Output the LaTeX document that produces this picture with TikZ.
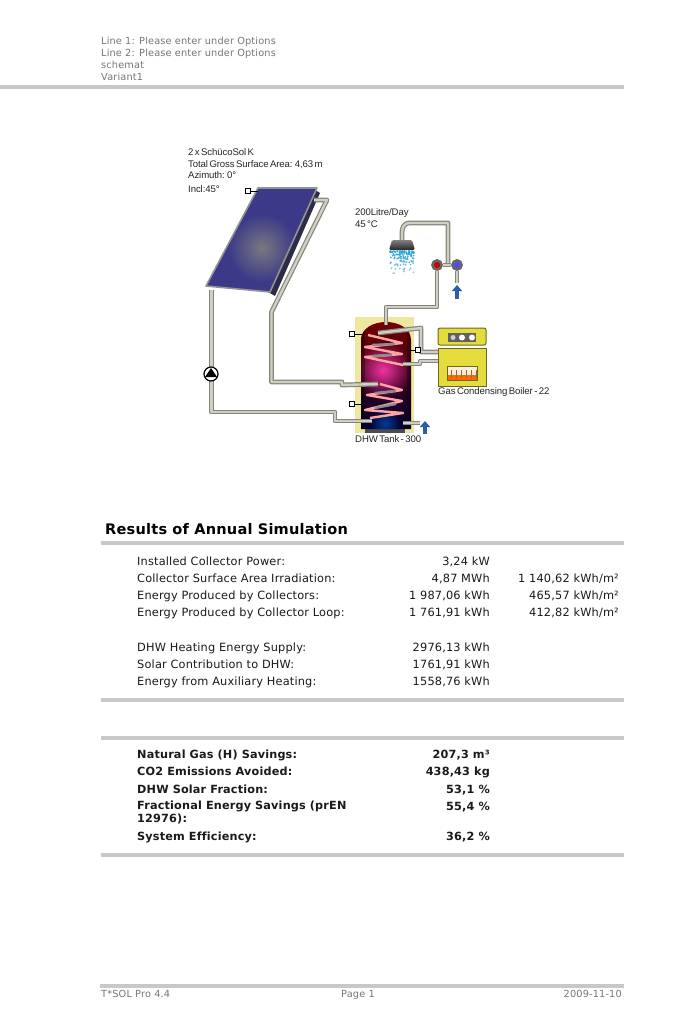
\documentclass[tikz,border=0pt]{standalone}
\usepackage{fontspec}
\setmainfont[LetterSpace=1.5,Ligatures=NoCommon]{DejaVu Sans}
\newfontfamily\labelfont[WordSpace=0.55,LetterSpace=-1]{Liberation Sans}
\usepackage{xcolor}
\usepackage{tikz}
\usetikzlibrary{shapes,arrows,arrows.meta,positioning,fadings}
\definecolor{rulegray}{HTML}{C8C8C8}
\definecolor{headgray}{HTML}{767676}
\definecolor{bodytext}{HTML}{1A1A1A}
\definecolor{pipeedge}{HTML}{85857A}
\definecolor{pipefill}{HTML}{CFCFC6}
\definecolor{panelblue}{HTML}{3C3A88}
\definecolor{panelback}{HTML}{2C2C48}
\definecolor{lagging}{HTML}{EFE6A0}
\definecolor{boileryellow}{HTML}{E4DC3C}
\definecolor{arrowblue}{HTML}{2C5FA8}
\tikzfading[name=glowfade, inner color=transparent!0, outer color=transparent!100]
\tikzset{
    headtext/.style = {anchor=base west, inner sep=0pt, text=headgray, font=\fontsize{9.77}{11}\selectfont},
    foottext/.style = {inner sep=0pt, text=headgray, font=\fontsize{9.77}{11}\selectfont},
    rowlabel/.style = {anchor=base west, inner sep=0pt, text=bodytext, font=\fontsize{11.35}{13}\selectfont},
    rowvalue/.style = {anchor=base east, inner sep=0pt, text=bodytext, font=\fontsize{11.35}{13}\selectfont},
    boldlabel/.style = {rowlabel, align=left, font=\fontsize{11.25}{13}\selectfont\bfseries},
    boldvalue/.style = {rowvalue, font=\fontsize{11.25}{13}\selectfont\bfseries},
    sectiontitle/.style = {anchor=base west, inner sep=0pt, text=black, font=\fontsize{14.55}{16}\selectfont\bfseries},
    partlabel/.style = {anchor=base west, inner sep=0pt, text=black!85, font=\fontsize{9.6}{11}\labelfont},
    rulebar/.style = {draw=rulegray, line width=4pt},
    pipe/.style = {draw=pipeedge, line width=1.2pt, double=pipefill, double distance=2.4pt, line join=round},
    coil/.style = {draw=#1, line width=2.4pt, line join=round},
    sensor/.style = {rectangle, draw=black, fill=white, line width=0.9pt, minimum size=5.5pt, inner sep=0pt},
    lead/.style = {draw=black, line width=0.8pt},
    valve/.style = {circle, draw=gray!80!black, fill=#1, line width=2.4pt, minimum size=9pt, inner sep=0pt},
    flowarrow/.style = {draw=arrowblue, line width=3.2pt, -{Triangle[length=6pt,width=10pt]}},
    pumpbody/.style = {circle, draw=black, fill=white, line width=1.2pt, minimum size=14pt, inner sep=0pt}
}

\begin{document}
\begin{tikzpicture}[x=1pt, y=-1pt]
    \useasboundingbox (0,0) rectangle (700,1016);
    \fill [white] (0,0) rectangle (700,1016);

    % page head
    \node [headtext] (line1) at (101,44.5) {Line 1: Please enter under Options};
    \node [headtext] (line2) at (101,56.5) {Line 2: Please enter under Options};
    \node [headtext] (schemat) at (101,69) {schemat};
    \node [headtext] (variant) at (101,81) {Variant1};
    \draw [rulebar] (0,87) -- (624,87);

    % collector
    \fill [panelback] (315,190) -- (320,193) -- (275,296) -- (268,292) -- cycle;
    \fill [panelblue] (258,188) -- (317,188) -- (270,292) -- (206,286) -- cycle;
    \begin{scope}
        \clip (258,188) -- (317,188) -- (270,292) -- (206,286) -- cycle;
        \fill [gray!90!panelblue, path fading=glowfade] (262,248) circle (34pt);
    \end{scope}
    \draw [gray!85!white, line width=1.6pt, line join=round] (258,188) -- (317,188) -- (270,292) -- (206,286) -- cycle;
    \coordinate (collectorin) at (211.6,290);
    \coordinate (collectorout) at (314,200);
    \coordinate (collectorcorner) at (258,191);
    \node [sensor] (collectorsensor) at (248,191) {};
    \draw [lead] (collectorsensor) -- (collectorcorner);

    % tank
    \fill [lagging] (355,317) rectangle (414,433);
    \fill [black!70] (365,424) rectangle (405,433);
    \begin{scope}
        \clip (361,429) -- (361,340) to[out=90,in=180] (386,322) to[out=0,in=90] (411,340) -- (411,429) -- cycle;
        \shade [top color=red!45!black, middle color=purple!75!black, bottom color=blue!20!black] (361,322) rectangle (411,429);
        \fill [magenta!80!white, path fading=glowfade] (383,370) circle (29pt);
        \fill [blue!60!cyan!60!black, path fading=glowfade] (385,424) circle (16pt);
        \fill [black, opacity=0.3] (361,322) rectangle (365,429);
        \fill [black, opacity=0.3] (407,322) rectangle (411,429);
    \end{scope}

    % heat exchanger coils
    \draw [coil=pink!85!red] (368,335) -- (402,343) -- (365,347) -- (402,354) -- (365,357) -- (403,365);
    \draw [coil=pink!85!red] (380,384) -- (402,390) -- (367,395) -- (402,401) -- (365,410) -- (403,413) -- (370,418);
    \draw [coil=gray!90!white] (372,345) -- (395,344);
    \draw [coil=gray!90!white] (372,356) -- (392,355);
    \draw [coil=gray!90!white] (375,393) -- (396,391);
    \draw [coil=gray!90!white] (375,408) -- (396,404);

    % connector nodes of the tank and boiler
    \coordinate (tanktop) at (386,325);
    \coordinate (coilreturn) at (378,384);
    \coordinate (coilfeed) at (372,421);
    \coordinate (boilerfeed) at (438,352);
    \coordinate (boilerreturn) at (438,361);
    \coordinate (upperin) at (378,333);
    \coordinate (upperout) at (403,364);
    \coordinate (tankcold) at (403,423);
    \coordinate (tankcoldend) at (420,423);

    % solar loop
    \draw [pipe] (collectorout) -- (327,200) -- (271.5,312) -- (271.5,382) -- (342,382) -- (342,385) -- (coilreturn);
    \draw [pipe] (collectorin) -- (211.6,412) -- (335,412) -- (335,421) -- (coilfeed);
    \node [pumpbody] (pump) at (211,374) {};
    \fill [black] (pump.center) ++(0,-6) -- ++(6,9) -- ++(-12,0) -- cycle;

    % boiler circuit
    \draw [pipe] (upperin) -- (421,328) -- (421,352) -- (boilerfeed);
    \draw [pipe] (upperout) -- (420,364) -- (420,361) -- (boilerreturn);
    \draw [pipe] (tankcold) -- (tankcoldend);
    \node [sensor] (sensortop) at (352,334) {};
    \node [sensor] (sensormid) at (418,350) {};
    \node [sensor] (sensorlow) at (352,404) {};
    \coordinate (leadtop) at (362,334);
    \coordinate (leadmid) at (409,350);
    \coordinate (leadlow) at (362,404);
    \draw [lead] (sensortop) -- (leadtop);
    \draw [lead] (sensormid) -- (leadmid);
    \draw [lead] (sensorlow) -- (leadlow);

    % boiler
    \draw [fill=boileryellow, draw=olive!70!black, line width=1pt, rounded corners=2pt] (438,328) rectangle (486,345);
    \draw [fill=boileryellow, draw=olive!70!black, line width=1pt] (438,348) rectangle (486,386);
    \fill [gray!75!black] (448,333) rectangle (476,342);
    \fill [gray!40!white] (453,337.5) circle (2.5pt);
    \foreach \cx in {462,472} {
        \fill [white] (\cx,337.5) circle (3pt);
    }
    \fill [orange!15!white] (447,366) rectangle (477,380);
    \fill [orange!80!red] (447,375) rectangle (477,380);
    \draw [olive!70!black, line width=0.8pt] (447,366) rectangle (477,380);
    \foreach \cx in {451,456,...,476} {
        \draw [brown!80!black, line width=0.7pt] (\cx,378) -- (\cx,370);
    }

    % shower and mixing valves
    \node [valve=red!80!black] (hotvalve) at (437,265) {};
    \node [valve=blue!70!white] (coldvalve) at (457,265) {};
    \coordinate (showerhead) at (402,241);
    \coordinate (coldend) at (457,283);
    \coordinate (junction) at (448,265);
    \draw [pipe] (showerhead) -- (402,232) to[out=90,in=180] (409,223) -- (448,223) -- (junction);
    \draw [pipe] (hotvalve) -- (coldvalve);
    \draw [pipe] (coldvalve) -- (coldend);
    \draw [pipe] (hotvalve) -- (437,307) -- (386,307) -- (tanktop);
    \node [valve=red!80!black] at (hotvalve) {};
    \node [valve=blue!70!white] at (coldvalve) {};
    \shade [top color=gray, bottom color=black!85, rounded corners=1.5pt] (389,250) -- (392,240) -- (412,240) -- (415,250) -- cycle;
    \pgfmathsetseed{17}
    \foreach \i in {1,...,120} {
        \pgfmathsetmacro{\dropy}{251+25*rnd*rnd}
        \pgfmathsetmacro{\dropx}{402+(rand*12)}
        \pgfmathsetmacro{\dropshade}{max(15,95-(\dropy-251)*3.2)}
        \fill [cyan!\dropshade!white!75!teal] (\dropx,\dropy) circle (1pt);
    }

    % flow arrows
    \coordinate (coldarrowtip) at (457,285);
    \coordinate (coldarrowtail) at (457,299);
    \coordinate (tankarrowtip) at (425,421);
    \coordinate (tankarrowtail) at (425,434);
    \draw [flowarrow] (coldarrowtail) -- (coldarrowtip);
    \draw [flowarrow] (tankarrowtail) -- (tankarrowtip);

    % part labels
    \node [partlabel] (collectortype) at (188,155.5) {2 x SchücoSol K};
    \node [partlabel] (collectorarea) at (188,168) {Total Gross Surface Area: 4,63 m};
    \node [partlabel] (collectorazimuth) at (188,179) {Azimuth: 0°};
    \node [partlabel] (collectorincl) at (188,192.5) {Incl:45°};
    \node [partlabel] (demand) at (355,216) {200Litre/Day};
    \node [partlabel] (demandtemp) at (355,228) {45 °C};
    \node [partlabel] (boilername) at (438,394) {Gas Condensing Boiler - 22};
    \node [partlabel] (tankname) at (355,442) {DHW Tank - 300};

    % results
    \node [sectiontitle] (results) at (105,534) {Results of Annual Simulation};
    \draw [rulebar] (101,543) -- (624,543);

    \node [rowlabel] (power) at (137,565) {Installed Collector Power:};
    \node [rowlabel] (irradiation) at (137,582) {Collector Surface Area Irradiation:};
    \node [rowlabel] (produced) at (137,599) {Energy Produced by Collectors:};
    \node [rowlabel] (loop) at (137,616) {Energy Produced by Collector Loop:};
    \node [rowlabel] (supply) at (137,651) {DHW Heating Energy Supply:};
    \node [rowlabel] (contribution) at (137,668) {Solar Contribution to DHW:};
    \node [rowlabel] (auxiliary) at (137,685) {Energy from Auxiliary Heating:};

    \node [rowvalue] (powerval) at (490,565) {3,24 kW};
    \node [rowvalue] (irradiationval) at (490,582) {4,87 MWh};
    \node [rowvalue] (producedval) at (490,599) {1 987,06 kWh};
    \node [rowvalue] (loopval) at (490,616) {1 761,91 kWh};
    \node [rowvalue] (supplyval) at (490,651) {2976,13 kWh};
    \node [rowvalue] (contributionval) at (490,668) {1761,91 kWh};
    \node [rowvalue] (auxiliaryval) at (490,685) {1558,76 kWh};

    \node [rowvalue] (irradiationarea) at (619,582) {1 140,62 kWh/m²};
    \node [rowvalue] (producedarea) at (619,599) {465,57 kWh/m²};
    \node [rowvalue] (looparea) at (619,616) {412,82 kWh/m²};
    \draw [rulebar] (101,700) -- (624,700);

    % savings
    \draw [rulebar] (101,738) -- (624,738);
    \node [boldlabel] (gas) at (137,758) {Natural Gas (H) Savings:};
    \node [boldlabel] (emissions) at (137,775) {CO2 Emissions Avoided:};
    \node [boldlabel] (fraction) at (137,793) {DHW Solar Fraction:};
    \node [boldlabel, anchor=north west] (savings) at (137,800.5) {Fractional Energy Savings (prEN\\12976):};
    \node [boldlabel] (efficiency) at (137,840) {System Efficiency:};

    \node [boldvalue] (gasval) at (490,758) {207,3 m³};
    \node [boldvalue] (emissionsval) at (490,775) {438,43 kg};
    \node [boldvalue] (fractionval) at (490,793) {53,1 \%};
    \node [boldvalue] (savingsval) at (490,810) {55,4 \%};
    \node [boldvalue] (efficiencyval) at (490,840) {36,2 \%};
    \draw [rulebar] (101,855) -- (624,855);

    % page foot
    \draw [rulebar] (100,986) -- (624,986);
    \node [foottext, anchor=base west] (product) at (101,997) {T*SOL Pro 4.4};
    \node [foottext, anchor=base] (pagenumber) at (358,997) {Page 1};
    \node [foottext, anchor=base east] (date) at (622,997) {2009-11-10};
\end{tikzpicture}
\end{document}
